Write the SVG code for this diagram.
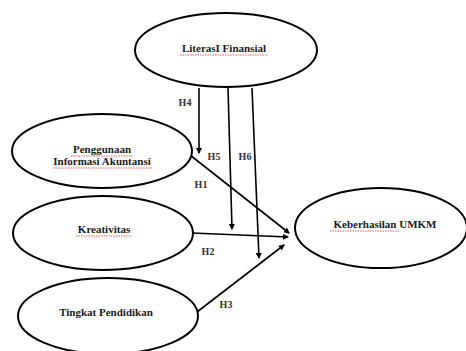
<svg xmlns="http://www.w3.org/2000/svg" width="466" height="351" viewBox="0 0 466 351">
<style>
.n{fill:#fff;stroke:#000;stroke-width:2}
.t{font-family:"Liberation Serif","Times New Roman",serif;font-weight:bold;font-size:11px;fill:#1a1a1a;text-anchor:middle}
.l{font-family:"Liberation Serif","Times New Roman",serif;font-weight:bold;font-size:10px;fill:#333;text-anchor:middle}
.c{stroke:#000;stroke-width:1.6;fill:none;marker-end:url(#a)}
.s{stroke:#d33;stroke-width:0.8;fill:none;stroke-dasharray:1.5 1}
</style>
<defs>
<marker id="a" markerWidth="6" markerHeight="6" refX="5" refY="3" orient="auto" markerUnits="userSpaceOnUse">
<path d="M0,0 L6,3 L0,6 z" fill="#000"/>
</marker>
</defs>
<rect width="466" height="351" fill="#fff"/>
<g id="connectors">
<line class="c" x1="199" y1="88" x2="199" y2="153"/>
<line class="c" x1="228" y1="88" x2="232" y2="229"/>
<line class="c" x1="252" y1="88" x2="259" y2="258"/>
<line class="c" x1="190" y1="155" x2="289" y2="233"/>
<line class="c" x1="192" y1="233" x2="288" y2="237"/>
<line class="c" x1="197" y1="312" x2="284" y2="245"/>
<text class="l" x="185" y="106">H4</text>
<text class="l" x="214" y="160">H5</text>
<text class="l" x="245" y="160">H6</text>
<text class="l" x="201" y="188">H1</text>
<text class="l" x="208" y="255">H2</text>
<text class="l" x="226" y="308">H3</text>
</g>
<g id="literasi">
<ellipse class="n" cx="226" cy="50" rx="91" ry="37"/>
<text class="t" x="224" y="52">LiterasI Finansial</text>
<path class="s" d="M180,55 H268"/>
</g>
<g id="penggunaan">
<ellipse class="n" cx="102" cy="151" rx="90" ry="37"/>
<text class="t" x="102" y="153">Penggunaan</text>
<text class="t" x="102" y="165">Informasi Akuntansi</text>
<path class="s" d="M71,156 H133 M53,168 H152"/>
</g>
<g id="kreativitas">
<ellipse class="n" cx="103" cy="233" rx="90" ry="37"/>
<text class="t" x="104" y="233">Kreativitas</text>
<path class="s" d="M76,236 H132"/>
</g>
<g id="tingkat">
<ellipse class="n" cx="108" cy="316" rx="90" ry="38"/>
<text class="t" x="106" y="316">Tingkat Pendidikan</text>
</g>
<g id="keberhasilan">
<ellipse class="n" cx="381" cy="228" rx="86" ry="40"/>
<text class="t" x="385" y="228">Keberhasilan UMKM</text>
<path class="s" d="M330,231 H399"/>
</g>
</svg>
